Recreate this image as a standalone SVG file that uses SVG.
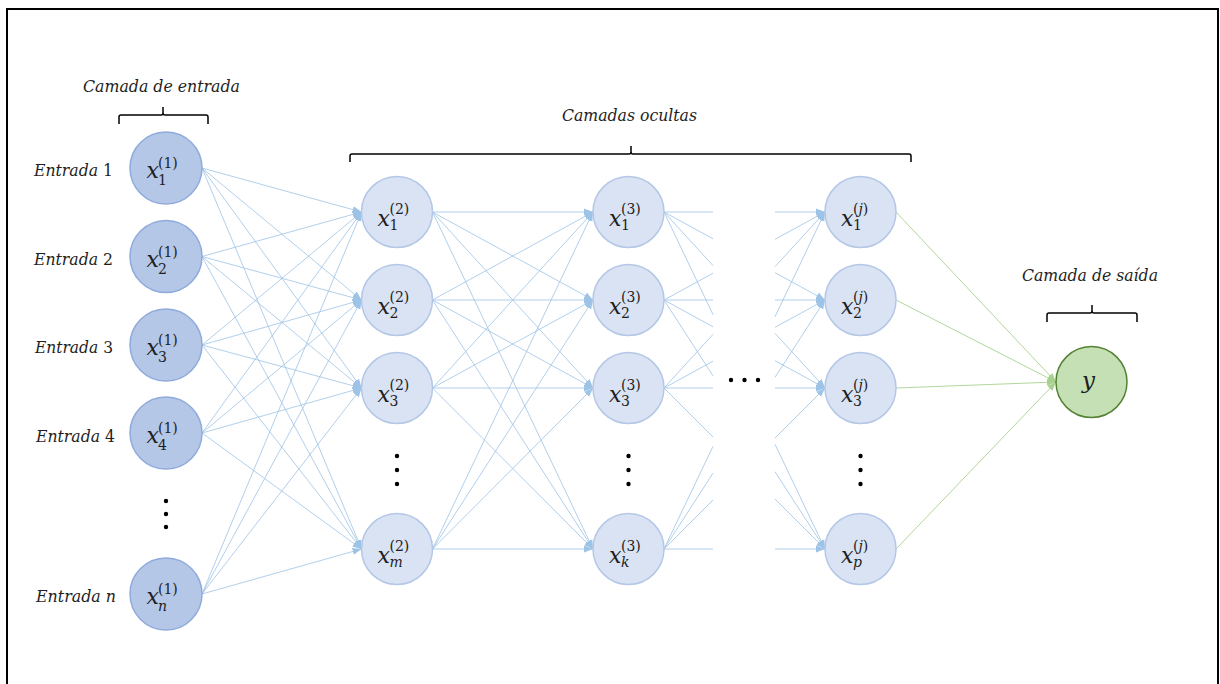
<svg xmlns="http://www.w3.org/2000/svg" width="1220" height="684" viewBox="0 0 1220 684">
<style>
.lbl{font-family:"DejaVu Serif","Liberation Serif",serif;font-style:italic;font-size:16px;fill:#1e1e1e}
.up{font-style:normal}
.mx{font-family:"DejaVu Serif","Liberation Serif",serif;font-style:italic;font-size:22px;fill:#1e1e1e}
.ms{font-family:"DejaVu Serif","Liberation Serif",serif;font-style:normal;font-size:14px;fill:#1e1e1e}
.it{font-style:italic}
.in{fill:#b4c7e7;stroke:#8faadc;stroke-width:1.5}
.hd{fill:#dae3f3;stroke:#b4c7e7;stroke-width:1.5}
.out{fill:#c5e0b4;stroke:#548235;stroke-width:1.5}
.bl line{stroke:#9dc3e6;stroke-width:0.8}
.ar line{marker-end:url(#ab)}
.gr line{stroke:#a9d18e;stroke-width:0.9;marker-end:url(#ag)}
.br{fill:none;stroke:#000;stroke-width:1.5}
.dot{fill:#000}
</style>
<defs>
<marker id="ab" markerUnits="userSpaceOnUse" markerWidth="10" markerHeight="8" refX="9" refY="4" orient="auto"><path d="M0,0.5 L9,4 L0,7.5 z" fill="#9dc3e6"/></marker>
<marker id="ag" markerUnits="userSpaceOnUse" markerWidth="10" markerHeight="8" refX="9" refY="4" orient="auto"><path d="M0,0.5 L9,4 L0,7.5 z" fill="#a9d18e"/></marker>
</defs>
<rect x="7" y="9" width="1211" height="700" fill="#fff" stroke="#000" stroke-width="2"/>

<g id="labels">
<text class="lbl" x="83" y="92" textLength="157" lengthAdjust="spacingAndGlyphs">Camada de entrada</text>
<text class="lbl" x="562" y="121" textLength="135" lengthAdjust="spacingAndGlyphs">Camadas ocultas</text>
<text class="lbl" x="1022" y="281" textLength="136" lengthAdjust="spacingAndGlyphs">Camada de saída</text>
<path class="br" d="M119,124 V117 Q119,115 121,115 H161 Q163,115 163,113 V107 M163,113 Q163,115 165,115 H206 Q208,115 208,117 V124"/>
<path class="br" d="M350,162 V156 Q350,154 352,154 H629 Q631,154 631,152 V146 M631,152 Q631,154 633,154 H909 Q911,154 911,156 V162"/>
<path class="br" d="M1047,322 V315 Q1047,313 1049,313 H1090 Q1092,313 1092,311 V305 M1092,311 Q1092,313 1094,313 H1135 Q1137,313 1137,315 V322"/>
<text class="lbl" x="34" y="176" textLength="79" lengthAdjust="spacingAndGlyphs">Entrada <tspan class="up">1</tspan></text>
<text class="lbl" x="34" y="264.5" textLength="79" lengthAdjust="spacingAndGlyphs">Entrada <tspan class="up">2</tspan></text>
<text class="lbl" x="35" y="353" textLength="78" lengthAdjust="spacingAndGlyphs">Entrada <tspan class="up">3</tspan></text>
<text class="lbl" x="36" y="442" textLength="79" lengthAdjust="spacingAndGlyphs">Entrada <tspan class="up">4</tspan></text>
<text class="lbl" x="36" y="602" textLength="80" lengthAdjust="spacingAndGlyphs">Entrada n</text>
</g>

<g id="connectors">
<g class="bl ar">
<line x1="202" y1="168" x2="361.5" y2="212"/><line x1="202" y1="168" x2="361.5" y2="300"/><line x1="202" y1="168" x2="361.5" y2="388"/><line x1="202" y1="168" x2="361.5" y2="549"/>
<line x1="202" y1="256.5" x2="361.5" y2="212"/><line x1="202" y1="256.5" x2="361.5" y2="300"/><line x1="202" y1="256.5" x2="361.5" y2="388"/><line x1="202" y1="256.5" x2="361.5" y2="549"/>
<line x1="202" y1="345" x2="361.5" y2="212"/><line x1="202" y1="345" x2="361.5" y2="300"/><line x1="202" y1="345" x2="361.5" y2="388"/><line x1="202" y1="345" x2="361.5" y2="549"/>
<line x1="202" y1="433" x2="361.5" y2="212"/><line x1="202" y1="433" x2="361.5" y2="300"/><line x1="202" y1="433" x2="361.5" y2="388"/><line x1="202" y1="433" x2="361.5" y2="549"/>
<line x1="202" y1="594" x2="361.5" y2="212"/><line x1="202" y1="594" x2="361.5" y2="300"/><line x1="202" y1="594" x2="361.5" y2="388"/><line x1="202" y1="594" x2="361.5" y2="549"/>

<line x1="432.5" y1="212" x2="593" y2="212"/><line x1="432.5" y1="212" x2="593" y2="300"/><line x1="432.5" y1="212" x2="593" y2="388"/><line x1="432.5" y1="212" x2="593" y2="549"/>
<line x1="432.5" y1="300" x2="593" y2="212"/><line x1="432.5" y1="300" x2="593" y2="300"/><line x1="432.5" y1="300" x2="593" y2="388"/><line x1="432.5" y1="300" x2="593" y2="549"/>
<line x1="432.5" y1="388" x2="593" y2="212"/><line x1="432.5" y1="388" x2="593" y2="300"/><line x1="432.5" y1="388" x2="593" y2="388"/><line x1="432.5" y1="388" x2="593" y2="549"/>
<line x1="432.5" y1="549" x2="593" y2="212"/><line x1="432.5" y1="549" x2="593" y2="300"/><line x1="432.5" y1="549" x2="593" y2="388"/><line x1="432.5" y1="549" x2="593" y2="549"/>

<line x1="775" y1="212" x2="825" y2="212"/><line x1="775" y1="272.7" x2="825" y2="300"/><line x1="775" y1="333.3" x2="825" y2="388"/><line x1="775" y1="444.3" x2="825" y2="549"/>
<line x1="775" y1="239.3" x2="825" y2="212"/><line x1="775" y1="300" x2="825" y2="300"/><line x1="775" y1="360.7" x2="825" y2="388"/><line x1="775" y1="471.7" x2="825" y2="549"/>
<line x1="775" y1="266.7" x2="825" y2="212"/><line x1="775" y1="327.3" x2="825" y2="300"/><line x1="775" y1="388" x2="825" y2="388"/><line x1="775" y1="499" x2="825" y2="549"/>
<line x1="775" y1="316.7" x2="825" y2="212"/><line x1="775" y1="377.3" x2="825" y2="300"/><line x1="775" y1="438" x2="825" y2="388"/><line x1="775" y1="549" x2="825" y2="549"/>
</g>
<g class="bl">
<line x1="664" y1="212" x2="713" y2="212"/><line x1="664" y1="212" x2="713" y2="238.8"/><line x1="664" y1="212" x2="713" y2="265.6"/><line x1="664" y1="212" x2="713" y2="314.6"/>
<line x1="664" y1="300" x2="713" y2="273.2"/><line x1="664" y1="300" x2="713" y2="300"/><line x1="664" y1="300" x2="713" y2="326.8"/><line x1="664" y1="300" x2="713" y2="375.8"/>
<line x1="664" y1="388" x2="713" y2="334.4"/><line x1="664" y1="388" x2="713" y2="361.2"/><line x1="664" y1="388" x2="713" y2="388"/><line x1="664" y1="388" x2="713" y2="437"/>
<line x1="664" y1="549" x2="713" y2="446.4"/><line x1="664" y1="549" x2="713" y2="473.2"/><line x1="664" y1="549" x2="713" y2="500"/><line x1="664" y1="549" x2="713" y2="549"/>
</g>
<g class="gr">
<line x1="896" y1="212" x2="1056" y2="382"/><line x1="896" y1="300" x2="1056" y2="382"/><line x1="896" y1="388" x2="1056" y2="382"/><line x1="896" y1="549" x2="1056" y2="382"/>
</g>
</g>

<g id="n-x1-1"><circle class="in" cx="166" cy="168" r="36"/><text class="mx" x="146.5" y="178">x</text><text class="ms" x="158" y="168">(1)</text><text class="ms" x="158" y="185">1</text></g>
<g id="n-x2-1"><circle class="in" cx="166" cy="256.5" r="36"/><text class="mx" x="146.5" y="266.5">x</text><text class="ms" x="158" y="256.5">(1)</text><text class="ms" x="158" y="273.5">2</text></g>
<g id="n-x3-1"><circle class="in" cx="166" cy="345" r="36"/><text class="mx" x="146.5" y="355">x</text><text class="ms" x="158" y="345">(1)</text><text class="ms" x="158" y="362">3</text></g>
<g id="n-x4-1"><circle class="in" cx="166" cy="433" r="36"/><text class="mx" x="146.5" y="443">x</text><text class="ms" x="158" y="433">(1)</text><text class="ms" x="158" y="450">4</text></g>
<g id="n-xn-1"><circle class="in" cx="166" cy="594" r="36"/><text class="mx" x="146.5" y="604">x</text><text class="ms" x="158" y="594">(1)</text><text class="ms it" x="158" y="611">n</text></g>
<g id="dots-in"><circle class="dot" cx="166" cy="501" r="2.2"/><circle class="dot" cx="166" cy="514" r="2.2"/><circle class="dot" cx="166" cy="527" r="2.2"/></g>

<g id="n-x1-2"><circle class="hd" cx="397" cy="212" r="35.5"/><text class="mx" x="377.5" y="225.5">x</text><text class="ms" x="389.5" y="214">(2)</text><text class="ms" x="389.5" y="230">1</text></g>
<g id="n-x2-2"><circle class="hd" cx="397" cy="300" r="35.5"/><text class="mx" x="377.5" y="313.5">x</text><text class="ms" x="389.5" y="302">(2)</text><text class="ms" x="389.5" y="318">2</text></g>
<g id="n-x3-2"><circle class="hd" cx="397" cy="388" r="35.5"/><text class="mx" x="377.5" y="401.5">x</text><text class="ms" x="389.5" y="390">(2)</text><text class="ms" x="389.5" y="406">3</text></g>
<g id="n-xm-2"><circle class="hd" cx="397" cy="549" r="35.5"/><text class="mx" x="377.5" y="562.5">x</text><text class="ms" x="389.5" y="551">(2)</text><text class="ms it" x="389.5" y="567">m</text></g>
<g id="dots-2"><circle class="dot" cx="397" cy="456" r="2.2"/><circle class="dot" cx="397" cy="470" r="2.2"/><circle class="dot" cx="397" cy="484" r="2.2"/></g>

<g id="n-x1-3"><circle class="hd" cx="628.5" cy="212" r="35.5"/><text class="mx" x="609" y="225.5">x</text><text class="ms" x="621" y="214">(3)</text><text class="ms" x="621" y="230">1</text></g>
<g id="n-x2-3"><circle class="hd" cx="628.5" cy="300" r="35.5"/><text class="mx" x="609" y="313.5">x</text><text class="ms" x="621" y="302">(3)</text><text class="ms" x="621" y="318">2</text></g>
<g id="n-x3-3"><circle class="hd" cx="628.5" cy="388" r="35.5"/><text class="mx" x="609" y="401.5">x</text><text class="ms" x="621" y="390">(3)</text><text class="ms" x="621" y="406">3</text></g>
<g id="n-xk-3"><circle class="hd" cx="628.5" cy="549" r="35.5"/><text class="mx" x="609" y="562.5">x</text><text class="ms" x="621" y="551">(3)</text><text class="ms it" x="621" y="567">k</text></g>
<g id="dots-3"><circle class="dot" cx="628.5" cy="456" r="2.2"/><circle class="dot" cx="628.5" cy="470" r="2.2"/><circle class="dot" cx="628.5" cy="484" r="2.2"/></g>

<g id="dots-mid"><circle class="dot" cx="731" cy="380" r="2.2"/><circle class="dot" cx="744.5" cy="380" r="2.2"/><circle class="dot" cx="758" cy="380" r="2.2"/></g>

<g id="n-x1-j"><circle class="hd" cx="860.5" cy="212" r="35.5"/><text class="mx" x="841" y="225.5">x</text><text class="ms" x="853" y="214">(<tspan class="it">j</tspan>)</text><text class="ms" x="853" y="230">1</text></g>
<g id="n-x2-j"><circle class="hd" cx="860.5" cy="300" r="35.5"/><text class="mx" x="841" y="313.5">x</text><text class="ms" x="853" y="302">(<tspan class="it">j</tspan>)</text><text class="ms" x="853" y="318">2</text></g>
<g id="n-x3-j"><circle class="hd" cx="860.5" cy="388" r="35.5"/><text class="mx" x="841" y="401.5">x</text><text class="ms" x="853" y="390">(<tspan class="it">j</tspan>)</text><text class="ms" x="853" y="406">3</text></g>
<g id="n-xp-j"><circle class="hd" cx="860.5" cy="549" r="35.5"/><text class="mx" x="841" y="562.5">x</text><text class="ms" x="853" y="551">(<tspan class="it">j</tspan>)</text><text class="ms it" x="853" y="567">p</text></g>
<g id="dots-j"><circle class="dot" cx="860.5" cy="456" r="2.2"/><circle class="dot" cx="860.5" cy="470" r="2.2"/><circle class="dot" cx="860.5" cy="484" r="2.2"/></g>

<g id="n-y"><circle class="out" cx="1091.5" cy="382" r="35.5"/><text class="mx" x="1082" y="388" style="font-size:23px">y</text></g>
</svg>
